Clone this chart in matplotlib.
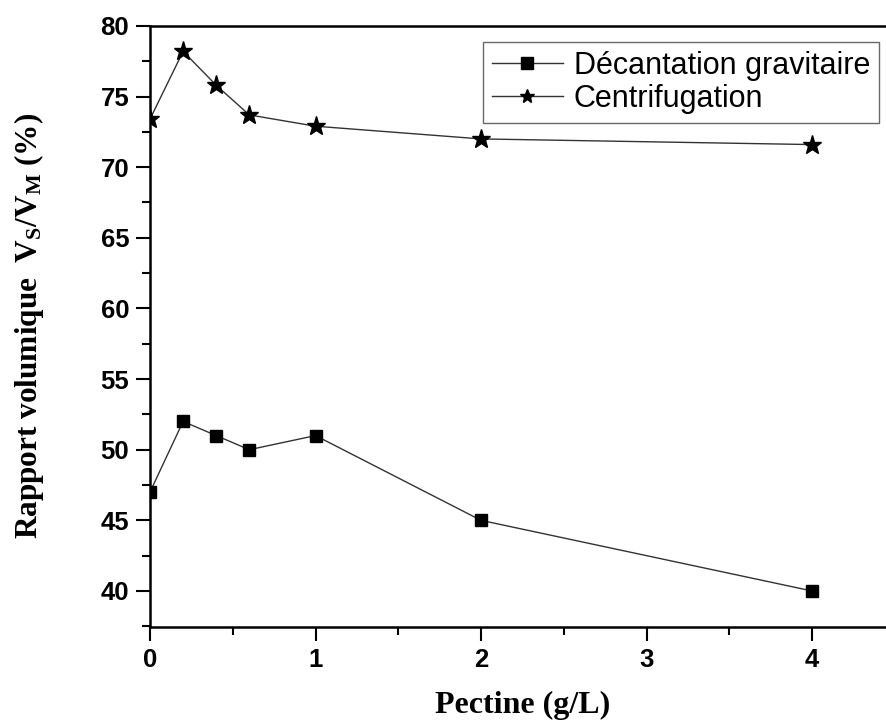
import matplotlib
matplotlib.use("Agg")
import matplotlib.pyplot as plt
from matplotlib.ticker import MultipleLocator

pectine = [0, 0.2, 0.4, 0.6, 1, 2, 4]
decantation = [47, 52, 51, 50, 51, 45, 40]
centrifugation = [73.4, 78.2, 75.8, 73.7, 72.9, 72.0, 71.6]
xticks = [0, 1, 2, 3, 4]
yticks = [40, 45, 50, 55, 60, 65, 70, 75, 80]

plt.rcParams['mathtext.fontset'] = 'custom'
plt.rcParams['mathtext.rm'] = 'Liberation Serif:bold'
plt.rcParams['mathtext.it'] = 'Liberation Serif:bold'
plt.rcParams['mathtext.bf'] = 'Liberation Serif:bold'

fig = plt.figure(figsize=(8.86, 7.22), dpi=100)
ax = fig.add_axes([0.1693, 0.1316, 0.8406, 0.8325])

ax.plot(pectine, decantation, color='#333333', lw=1.0, marker='s', ms=9,
        mfc='black', mec='black', label='Décantation gravitaire')
ax.plot(pectine, centrifugation, color='#333333', lw=1.0, marker='*', ms=14,
        mfc='black', mec='black', label='Centrifugation')

ax.set_xlim(0, 4.5)
ax.set_ylim(37.45, 80)
ax.set_xticks(xticks)
ax.set_yticks(yticks)
ax.xaxis.set_minor_locator(MultipleLocator(0.5))
ax.yaxis.set_minor_locator(MultipleLocator(2.5))
ax.tick_params(which='major', direction='out', length=10, width=1.5,
               top=False, right=False, labelsize=18.5, pad=5)
ax.tick_params(which='minor', direction='out', length=6, width=1.5,
               top=False, right=False)
for lbl in ax.get_xticklabels() + ax.get_yticklabels():
    lbl.set_fontfamily('Liberation Sans')
    lbl.set_fontweight('bold')
for s in ax.spines.values():
    s.set_linewidth(1.8)

ax.set_xlabel('Pectine (g/L)', fontsize=23, fontweight='bold',
              family='Liberation Serif', labelpad=14)
ax.set_ylabel('Rapport volumique  V$_{\\mathrm{S}}$/V$_{\\mathrm{M}}$ (%)', fontsize=22.5,
              fontweight='bold', family='Liberation Serif', labelpad=39)

leg = ax.legend(loc='upper right', bbox_to_anchor=(0.979, 0.9734),
                prop={'family': 'Liberation Sans', 'size': 22},
                frameon=True, fancybox=False, edgecolor='#444444',
                handlelength=2.3, handletextpad=0.36, borderpad=0.3,
                labelspacing=0.1, borderaxespad=0)
leg.get_frame().set_linewidth(1.0)
leg.legend_handles[0].set_markersize(8)
leg.legend_handles[1].set_markersize(10)

fig.savefig('out.png', dpi=100)
